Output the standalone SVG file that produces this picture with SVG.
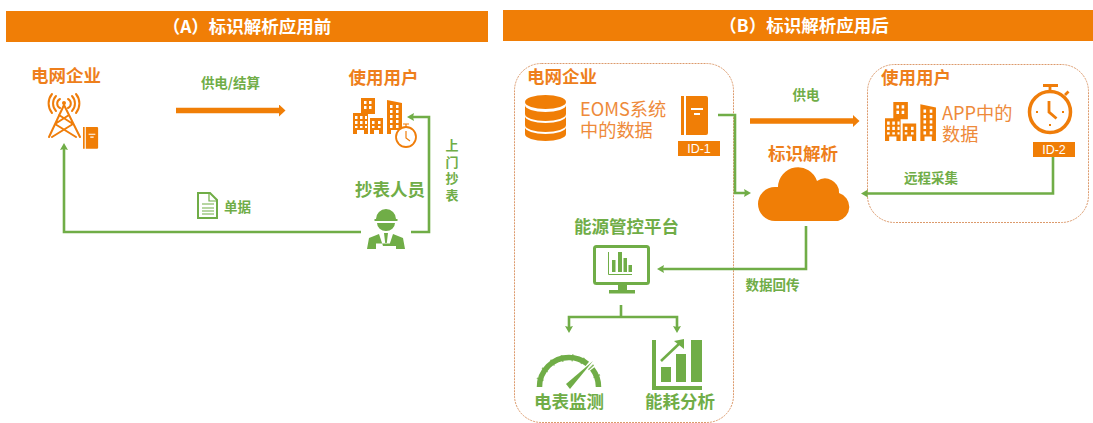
<svg xmlns="http://www.w3.org/2000/svg" width="1093" height="423" viewBox="0 0 1093 423">
<style>
text{font-family:"Noto Sans CJK SC","Liberation Sans",sans-serif}
.o{fill:#F07E06}.g{fill:#70AD47}
.to{fill:#EE7F1C;font-weight:700;font-size:17.5px;text-anchor:middle}
.tg{fill:#70AD47;font-weight:700;font-size:17.5px;text-anchor:middle}
.ts{fill:#70AD47;font-weight:700;font-size:13.500px;text-anchor:middle}
.tl{fill:#EE8A3A;font-size:18.200px}
.th{fill:#fff;font-weight:700;font-size:17.500px;text-anchor:middle}
.tid{fill:#fff;font-size:12.500px;text-anchor:middle;font-family:"Liberation Sans",sans-serif}
.c{fill:none;stroke:#70AD47;stroke-width:2.6}
.p{fill:none;stroke:#F07E06;stroke-width:5.5}
.box{fill:none;stroke:#DC9A6C;stroke-width:1;stroke-dasharray:2 1}
.ln{fill:none;stroke:#EF7D0A;stroke-width:2;stroke-linecap:round;stroke-linejoin:round}
</style>
<defs>
<marker id="ag" markerUnits="userSpaceOnUse" markerWidth="8" markerHeight="9" refX="1" refY="4" orient="auto"><path d="M0 0L7 4L0 8L1 4Z" fill="#70AD47"/></marker>
<marker id="ao" markerUnits="userSpaceOnUse" markerWidth="7" markerHeight="13" refX="0" refY="6" orient="auto"><path d="M0 0L6.500 6L0 12Z" fill="#F07E06"/></marker>
<g id="bld">
<path class="o" d="M0 15H8V0H22V16H15V36H11V32H4V36H0ZM17 20H30V36H26V32H21V36H17ZM34 2L49 5V36H45V32H38V36H34Z"/>
<path fill="#fff" d="M2 18h2.500v3h-2.500zM7 18h2.500v3h-2.500zM12 18h2v3h-2zM2 23h2.500v3h-2.500zM7 23h2.500v3h-2.500zM12 23h2v3h-2zM2 28h2.500v2h-2.500zM7 28h2.500v2h-2.500zM12 28h2v2h-2zM11 3h2.500v3h-2.500zM16 3h2.500v3h-2.500zM11 8h2.500v3h-2.500zM16 8h2.500v3h-2.500zM19 23h2.500v3h-2.500zM25 23h2.500v3h-2.500zM19 28h2.500v2h-2.500zM25 28h2.500v2h-2.500zM37 7h2.500v3h-2.500zM43 7h2.500v3h-2.500zM37 12h2.500v3h-2.500zM43 12h2.500v3h-2.500zM37 17h2.500v3h-2.500zM43 17h2.500v3h-2.500zM37 22h2.500v3h-2.500zM43 22h2.500v3h-2.500zM37 27h2.500v3h-2.500zM43 27h2.500v3h-2.500z"/>
</g>
<g id="book">
<path class="o" d="M0 0h3v39H0zM5 0h20a2 2 0 0 1 2 2v35a2 2 0 0 1-2 2H5z"/>
<path fill="#fff" d="M10 12h12v2H10zM13 17h6v2h-6z"/>
</g>
</defs>

<g id="header-a"><rect x="6" y="11" width="482" height="31" class="o"/><text class="th" x="247" y="33">（A）标识解析应用前</text></g>
<g id="header-b"><rect x="503" y="10" width="590" height="31" class="o"/><text class="th" x="804" y="32">（B）标识解析应用后</text></g>

<g id="panel-user-b"><rect class="box" x="867.500" y="64.500" width="221" height="158" rx="27"/></g>
<g id="panel-grid-b"><rect class="box" x="514.500" y="63.500" width="219" height="359" rx="27"/></g>

<g id="connectors">
<path class="p" d="M176 110.500H279" marker-end="url(#ao)"/>
<path class="c" d="M361 232H64V149" marker-end="url(#ag)"/>
<path class="c" d="M411 232H429V117H413" marker-end="url(#ag)"/>
<path class="p" d="M750 121H853" marker-end="url(#ao)"/>
<path class="c" d="M718 115H735V193H745" marker-end="url(#ag)"/>
<path class="c" d="M1053 157V193.500H867" marker-end="url(#ag)"/>
<path class="c" d="M806 226V269H663" marker-end="url(#ag)"/>
<path class="c" d="M621 305V317"/>
<path class="c" d="M621 317H569V327" marker-end="url(#ag)"/>
<path class="c" d="M621 317H677V327" marker-end="url(#ag)"/>
</g>

<g id="grid-a">
<text class="to" x="66" y="82">电网企业</text>
<path class="ln" d="M64 105L49 137M64 105L80 137M55 124L76 137M73 124L52 137M59 115L73 124M69 115L55 124"/>
<path class="ln" d="M60 99a5 5 0 0 0 0 9M68 99a5 5 0 0 1 0 9M56 96a11 11 0 0 0 0 15M72 96a11 11 0 0 1 0 15M52 94a15 15 0 0 0 0 19M76 94a15 15 0 0 1 0 19"/>
<circle cx="64" cy="103" r="2" class="o"/>
<use href="#book" transform="translate(83 127) scale(.56)"/>
</g>
<g id="user-a">
<text class="to" x="383.500" y="84">使用用户</text>
<use href="#bld" x="353" y="98"/>
<circle cx="406" cy="137" r="10" fill="#fff" stroke="#EF7D0A" stroke-width="1.8"/>
<path d="M406 131V138L410 141M403 124H409M406 124V127" fill="none" stroke="#EF7D0A" stroke-width="1.2"/>
</g>
<g id="label-a1"><text class="ts" x="230.500" y="88">供电/结算</text></g>
<g id="doc-a">
<path d="M198 193H210L217 200V218H198Z" fill="#fff" stroke="#70AD47" stroke-width="2"/>
<path d="M209 193V201H217M202 204H214M202 208H214M202 211H214M202 214H214" fill="none" stroke="#70AD47" stroke-width="1.2"/>
<text class="ts" x="237.500" y="212">单据</text>
</g>
<g id="reader-a">
<text class="tg" x="390" y="196">抄表人员</text>
<path class="g" d="M376 219a10 10 0 0 1 20 0h1.500v2h-23v-2zM377 223h18a9 8 0 0 1-18 0z"/>
<path class="g" d="M379 234L369 238L367 249H376V246H383ZM393 234L403 238L405 249H396V246H389ZM384 233H388L386.800 243H385.200ZM376 243.500H396V246H376Z"/>
</g>
<g id="label-a2"><text class="ts" writing-mode="vertical-rl" x="452" y="139" letter-spacing="3.500" style="font-size:13px;text-anchor:start">上门抄表</text></g>

<g id="grid-b">
<text class="to" x="562" y="83">电网企业</text>
<g class="o">
<ellipse cx="545.500" cy="102" rx="20.500" ry="7"/>
<path d="M525 105a20.500 7 0 0 0 41 0v9a20.500 7 0 0 1-41 0zM525 116a20.500 7 0 0 0 41 0v9a20.500 7 0 0 1-41 0zM525 127a20.500 7 0 0 0 41 0v7a20.500 7 0 0 1-41 0z"/>
</g>
<text class="tl"><tspan x="580" y="116">EOMS系统</tspan><tspan x="580" y="137">中的数据</tspan></text>
<use href="#book" x="681" y="96"/>
<rect class="o" x="678" y="141" width="42" height="15"/>
<text class="tid" x="699" y="153">ID-1</text>
</g>
<g id="label-b1"><text class="ts" x="806" y="100">供电</text></g>
<g id="resolver-b">
<text class="to" x="803" y="160">标识解析</text>
<path class="o" d="M775 221A17 17 0 0 1 775 187L778 187A20 20 0 0 1 817 181A14 14 0 0 1 839 193A14.500 14.500 0 0 1 838 221Z"/>
</g>
<g id="user-b">
<text class="to" x="916" y="84">使用用户</text>
<use href="#bld" transform="translate(885 102) scale(1.04 1.08)"/>
<text class="tl"><tspan x="942" y="120">APP中的</tspan><tspan x="942" y="141">数据</tspan></text>
<circle cx="1050" cy="112" r="20.500" fill="#fff" stroke="#EF7D0A" stroke-width="3.500"/>
<path d="M1043 85.500H1058M1050 85V92M1065 95L1068.500 91.500M1049 101V112L1056.500 118.500" fill="none" stroke="#EF7D0A" stroke-width="2.800"/>
<path class="o" d="M1049 124h2v2h-2zM1036 111h2v2h-2zM1062 111h2v2h-2z"/>
<rect class="o" x="1033" y="142" width="42" height="15"/>
<text class="tid" x="1054" y="154">ID-2</text>
</g>
<g id="label-b2"><text class="ts" x="931" y="183">远程采集</text></g>
<g id="label-b3"><text class="ts" x="772.500" y="290">数据回传</text></g>
<g id="platform-b">
<text class="tg" x="626.500" y="233">能源管控平台</text>
<rect x="594.500" y="246.500" width="54" height="37" rx="2" fill="#fff" stroke="#70AD47" stroke-width="3"/>
<path class="g" d="M618 284h9v6h-9zM609 290h26v3.500h-26z"/>
<path d="M608.500 252V274.500H632" fill="none" stroke="#70AD47" stroke-width="1"/>
<path class="g" d="M612 260h3.500v12h-3.500zM618 252h4v20h-4zM623.500 258h3.500v14h-3.500zM628.500 265h3.500v7h-3.500z"/>
</g>
<g id="meter-b">
<path d="M539.500 387a29.500 29.500 0 0 1 59 0" fill="none" stroke="#70AD47" stroke-width="5.500" stroke-dasharray="66 7 30"/>
<path d="M540 380a30 30 0 0 1 58 0" fill="none" stroke="#70AD47" stroke-width="7" stroke-dasharray="1.500 9" opacity=".8"/>
<path class="g" d="M566 384L593 361L570 389Z"/>
<text class="tg" x="569" y="408">电表监测</text>
</g>
<g id="analysis-b">
<path class="g" d="M652 340h4v46h46v4h-50zM661 367h10v15h-10zM676 354h10v28h-10zM691 340h11v42h-11z"/>
<path d="M661 361L681 342" fill="none" stroke="#70AD47" stroke-width="2.500"/>
<path class="g" d="M684 339V349L674 341Z"/>
<text class="tg" x="680" y="408">能耗分析</text>
</g>
</svg>
